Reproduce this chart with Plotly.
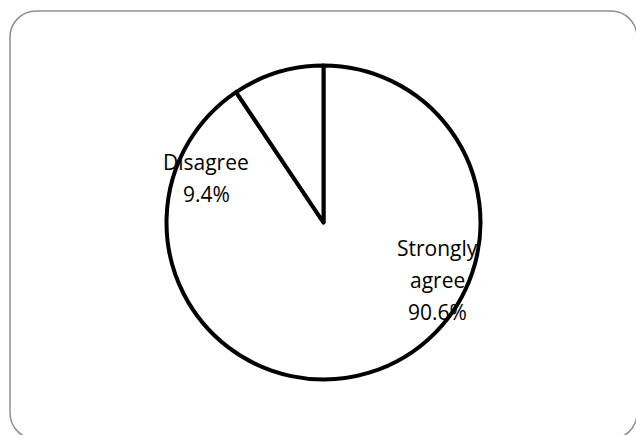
import plotly.graph_objects as go

# Survey responses
labels = ["Strongly agree", "Disagree"]
values = [90.6, 9.4]
label_lines = [["Strongly", "agree"], ["Disagree"]]

W, H = 636, 435

fig = go.Figure(
    go.Pie(
        labels=labels,
        values=values,
        sort=False,
        direction="clockwise",
        rotation=0,
        textinfo="none",
        hoverinfo="label+percent",
        marker=dict(colors=["white", "white"], line=dict(color="black", width=4)),
        domain=dict(x=[0.2618, 0.7555], y=[0.1276, 0.8494]),
        showlegend=False,
    )
)

# Slice labels, one annotation per text line (pixel anchor of first line)
label_pos = [(437, 248), (206, 162)]
line_gap = 32
annotations = []
for lines, val, (px, py) in zip(label_lines, values, label_pos):
    for i, txt in enumerate(lines + [f"{val}%"]):
        annotations.append(
            dict(
                x=px / W,
                y=1 - (py + i * line_gap) / H,
                xref="paper",
                yref="paper",
                text=txt,
                showarrow=False,
                xanchor="center",
                yanchor="middle",
                font=dict(family="Open Sans", size=21, color="#000000"),
            )
        )

# Rounded outer frame (in pixel units, converted to paper fractions)
x0, x1, y0, y1, r = 10, 637, 11, 439, 26
k = 0.45


def p(x, y):
    return f"{x / W:.5f},{1 - y / H:.5f}"


path = (
    f"M {p(x0 + r, y0)} L {p(x1 - r, y0)} "
    f"C {p(x1 - r * k, y0)} {p(x1, y0 + r * k)} {p(x1, y0 + r)} "
    f"L {p(x1, y1 - r)} "
    f"C {p(x1, y1 - r * k)} {p(x1 - r * k, y1)} {p(x1 - r, y1)} "
    f"L {p(x0 + r, y1)} "
    f"C {p(x0 + r * k, y1)} {p(x0, y1 - r * k)} {p(x0, y1 - r)} "
    f"L {p(x0, y0 + r)} "
    f"C {p(x0, y0 + r * k)} {p(x0 + r * k, y0)} {p(x0 + r, y0)} Z"
)

fig.update_layout(
    width=W,
    height=H,
    margin=dict(l=0, r=0, t=0, b=0),
    paper_bgcolor="white",
    plot_bgcolor="white",
    annotations=annotations,
    shapes=[
        dict(
            type="path",
            xref="paper",
            yref="paper",
            path=path,
            line=dict(color="#8f8f8f", width=1.5),
            layer="below",
        )
    ],
)

fig.write_html("out.html")
